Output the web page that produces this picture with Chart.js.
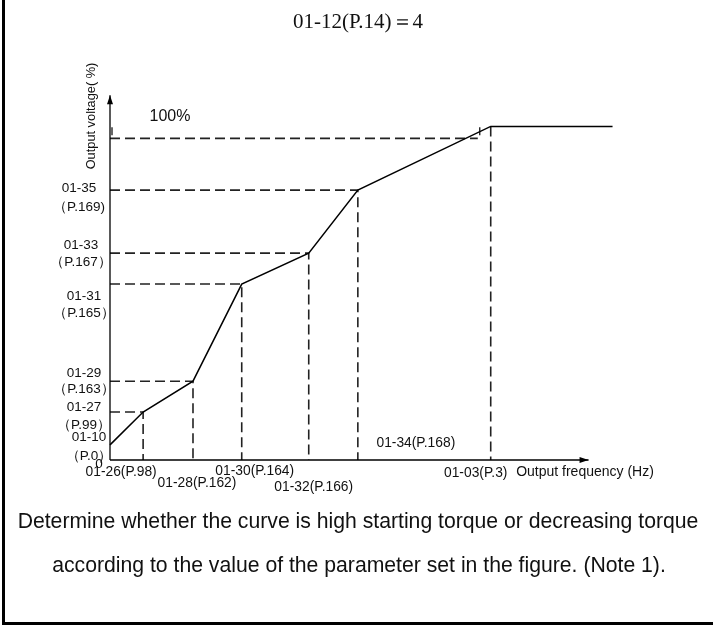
<!DOCTYPE html>
<html>
<head>
<meta charset="utf-8">
<script src="https://cdn.jsdelivr.net/npm/chart.js@4"></script>
<style>
  html, body { margin: 0; padding: 0; background: #fff; }
  #wrap { position: relative; width: 713px; height: 626px; }
</style>
</head>
<body>
<div id="wrap"><canvas id="vfChart"></canvas></div>
<script>
// V/F curve, values (frequency: % of 01-03, voltage: %)
const freqPoints = [0, 8.7, 21.8, 34.6, 52.2, 65.1, 100, 132];
const voltPoints = [4.7, 14.9, 24.5, 54.7, 64.3, 83.9, 103.7, 103.7];

// labels of the break points on the frequency axis (points 1..6)
const freqLabels = ["01-26(P.98)", "01-28(P.162)", "01-30(P.164)", "01-32(P.166)", "01-34(P.168)", "01-03(P.3)"];
// labels of the break points on the voltage axis (points 0..5)
const voltLabels = [
  ["01-10", "（P.0）"],
  ["01-27", "（P.99）"],
  ["01-29", "（P.163）"],
  ["01-31", "（P.165）"],
  ["01-33", "（P.167）"],
  ["01-35", "（P.169)"],
];
const ratedVolt = 100;
const ratedLabel = "100%";
const ratedDashEnd = 96.6;
const xAxisEnd = 125.7;
const yAxisEnd = 113.4;

const titleText = "01-12(P.14)＝4";
const xAxisTitle = "Output frequency (Hz)";
const yAxisTitle = "Output voltage( %)";
const noteLines = [
  "Determine whether the curve is high starting torque or decreasing torque",
  "according to the value of the parameter set in the figure. (Note 1).",
];

const dashStyle = { borderColor: "#222", borderWidth: 1.6, borderDash: [10, 5], clip: false };

function buildDatasets() {
  const sets = [];
  sets.push({
    data: freqPoints.map((f, i) => ({ x: f, y: voltPoints[i] })),
    borderColor: "#000",
    borderWidth: 1.5,
    clip: false,
  });
  sets.push({ data: [{ x: 0, y: 0 }, { x: xAxisEnd, y: 0 }], borderColor: "#000", borderWidth: 1.3, clip: false });
  sets.push({ data: [{ x: 0, y: 0 }, { x: 0, y: yAxisEnd }], borderColor: "#000", borderWidth: 1.3, clip: false });

  for (let i = 1; i <= 5; i++) {
    sets.push(Object.assign({
      data: [
        { x: 0, y: voltPoints[i] },
        { x: freqPoints[i], y: voltPoints[i] },
        { x: freqPoints[i], y: 0 },
      ],
    }, dashStyle));
  }
  sets.push(Object.assign({ data: [{ x: freqPoints[6], y: voltPoints[6] }, { x: freqPoints[6], y: 0 }] }, dashStyle));
  sets.push(Object.assign({ data: [{ x: 0, y: ratedVolt }, { x: ratedDashEnd, y: ratedVolt }] }, dashStyle));
  return sets;
}

// [centre x, offset of line 1, offset of line 2] for the voltage labels
const voltLabelPos = [[89, -8, 11], [84, -5, 13], [84, -8, 8], [84, 12, 29], [81, -8, 9], [79, -2, 17]];
// [offset x, y] for the frequency labels
const freqLabelPos = [[-22, 472], [4, 483], [13, 471], [5, 487], [58, 443], [-15, 473]];

const decorations = {
  id: "decorations",
  afterDatasetsDraw(chart) {
    const ctx = chart.ctx;
    const xs = chart.scales.x;
    const ys = chart.scales.y;
    const x0 = xs.getPixelForValue(0);
    const y0 = ys.getPixelForValue(0);

    ctx.save();
    ctx.fillStyle = "#000";
    ctx.strokeStyle = "#000";

    // frame (left and bottom)
    ctx.fillRect(2, 0, 3, 623);
    ctx.fillRect(2, 622, 711, 3);

    // arrow heads
    const yTop = ys.getPixelForValue(yAxisEnd);
    ctx.beginPath();
    ctx.moveTo(x0, yTop);
    ctx.lineTo(x0 - 3, yTop + 9);
    ctx.lineTo(x0 + 3, yTop + 9);
    ctx.closePath();
    ctx.fill();
    const xEnd = xs.getPixelForValue(xAxisEnd);
    ctx.beginPath();
    ctx.moveTo(xEnd, y0);
    ctx.lineTo(xEnd - 9, y0 - 3);
    ctx.lineTo(xEnd - 9, y0 + 3);
    ctx.closePath();
    ctx.fill();

    // small marks at the 100% line
    const yRated = ys.getPixelForValue(ratedVolt);
    ctx.lineWidth = 1.2;
    ctx.beginPath();
    ctx.moveTo(x0 + 2, yRated - 11);
    ctx.lineTo(x0 + 2, yRated - 3);
    const xMark = xs.getPixelForValue(ratedDashEnd) + 2;
    ctx.moveTo(xMark, yRated - 11);
    ctx.lineTo(xMark, yRated - 3);
    ctx.stroke();

    // title
    ctx.fillStyle = "#111";
    ctx.textAlign = "center";
    ctx.textBaseline = "middle";
    ctx.font = '21px "Liberation Serif", "Times New Roman", serif';
    ctx.fillText(titleText, 358, 22);

    // voltage labels
    ctx.font = '13.5px "Liberation Sans", Arial, sans-serif';
    voltLabels.forEach((lines, i) => {
      const py = ys.getPixelForValue(voltPoints[i]);
      const p = voltLabelPos[i];
      ctx.fillText(lines[0], p[0], py + p[1]);
      ctx.fillText(lines[1], p[0], py + p[2]);
    });
    ctx.fillText("0", 99, 464);

    // frequency labels
    ctx.font = '13.8px "Liberation Sans", Arial, sans-serif';
    freqLabels.forEach((label, i) => {
      const px = xs.getPixelForValue(freqPoints[i + 1]);
      const p = freqLabelPos[i];
      ctx.fillText(label, px + p[0], p[1]);
    });
    ctx.font = '14px "Liberation Sans", Arial, sans-serif';
    ctx.fillText(xAxisTitle, 585, 472);

    // 100% label
    ctx.font = '16px "Liberation Sans", Arial, sans-serif';
    ctx.fillText(ratedLabel, 170, yRated - 22);

    // vertical axis title
    ctx.save();
    ctx.translate(91, 116);
    ctx.rotate(-Math.PI / 2);
    ctx.font = '12.8px "Liberation Sans", Arial, sans-serif';
    ctx.fillText(yAxisTitle, 0, 0);
    ctx.restore();

    // note under the figure
    ctx.textBaseline = "alphabetic";
    ctx.font = '21.2px "Liberation Sans", Arial, sans-serif';
    ctx.fillText(noteLines[0], 358, 528);
    ctx.fillText(noteLines[1], 359, 572);

    ctx.restore();
  },
};

new Chart(document.getElementById("vfChart"), {
  type: "line",
  data: { datasets: buildDatasets() },
  options: {
    responsive: true,
    maintainAspectRatio: false,
    animation: false,
    layout: { padding: { left: 110, right: 70, top: 74, bottom: 166 } },
    elements: { point: { radius: 0 }, line: { tension: 0 } },
    scales: {
      x: { type: "linear", min: 0, max: 140, display: false },
      y: { type: "linear", min: 0, max: 120, display: false },
    },
    plugins: { legend: { display: false }, tooltip: { enabled: false } },
  },
  plugins: [decorations],
});
</script>
</body>
</html>
